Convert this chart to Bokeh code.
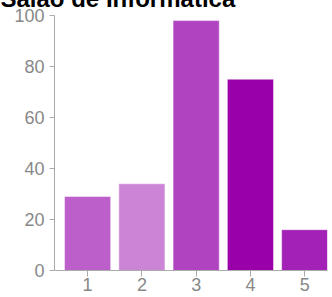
from bokeh.plotting import figure
from bokeh.models import Range1d, FixedTicker
from bokeh.embed import file_html
from bokeh.resources import INLINE

title = "Salão de Informática"
categories = [1, 2, 3, 4, 5]
values = [29, 34, 98, 75, 16]
colors = ["#BC5FCA", "#CC85D6", "#B044C0", "#9900AA", "#A421B8"]
y_ticks = [0, 20, 40, 60, 80, 100]

shift = 22
p = figure(width=332, height=297 + shift, output_backend="svg", toolbar_location=None,
           x_range=Range1d(0.39, 5.42), y_range=Range1d(0, 100), title=title,
           min_border_left=54, min_border_right=5, min_border_top=0, min_border_bottom=27)
p.styles = {"margin-left": "0px", "margin-top": f"-{shift}px"}
p.outline_line_color = None
p.grid.visible = False
p.background_fill_color = "white"
p.border_fill_color = "white"

p.title.text_font = "Liberation Sans"
p.title.text_font_style = "bold"
p.title.text_font_size = "24px"
p.title.text_color = "black"
p.title.align = "left"
p.title.offset = -54
p.title.standoff = 8

p.vbar(x=categories, top=values, width=0.85, bottom=0, fill_color=colors,
       line_color="white", line_alpha=0.45, line_width=1)

for ax in (p.xaxis[0], p.yaxis[0]):
    ax.axis_line_color = "#AAAAAA"
    ax.major_tick_line_color = "#AAAAAA"
    ax.minor_tick_line_color = None
    ax.major_tick_in = 0
    ax.major_tick_out = 6
    ax.major_label_text_color = "#888888"
    ax.major_label_text_font = "Liberation Sans"
    ax.major_label_text_font_size = "18px"

p.xaxis.ticker = FixedTicker(ticks=categories)
p.xaxis.major_label_standoff = 1
p.yaxis.ticker = FixedTicker(ticks=y_ticks)
p.yaxis.major_label_standoff = 5
p.yaxis.major_tick_out = 5

open("out.html", "w").write(file_html(p, INLINE))
